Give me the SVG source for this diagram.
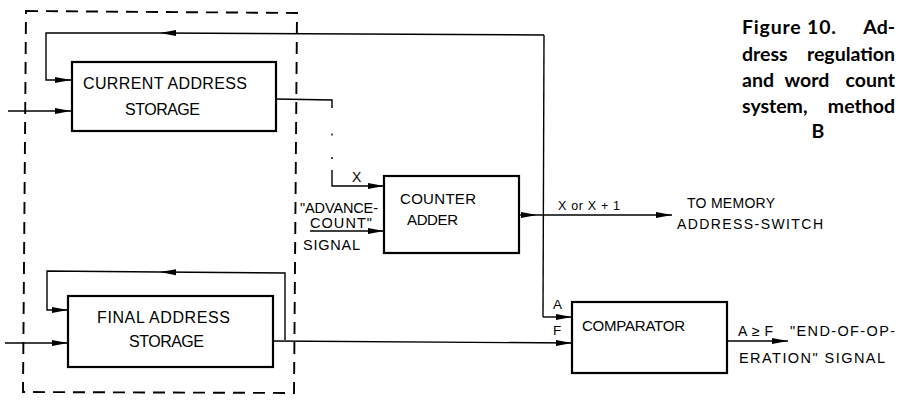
<svg xmlns="http://www.w3.org/2000/svg" width="898" height="402" viewBox="0 0 898 402">
<defs>
<marker id="ah" markerUnits="userSpaceOnUse" markerWidth="16" markerHeight="8" refX="16" refY="4" orient="auto" viewBox="0 0 16 8">
<path d="M0,1 L16,4 L0,7 Z" fill="#000"/>
</marker>
</defs>
<style>
.box{fill:#fff;stroke:#000;stroke-width:2.2}
.ln{fill:none;stroke:#000;stroke-width:1.4}
.arr{fill:none;stroke:#000;stroke-width:1.4;marker-end:url(#ah)}
.t{font-family:"Liberation Sans",Arial,sans-serif;fill:#000}
.cap{font-family:Lato,"DejaVu Sans",sans-serif;font-weight:bold;font-size:19.5px;fill:#000}
.e{text-anchor:end}
.m{text-anchor:middle}
</style>
<rect width="898" height="402" fill="#fff"/>

<g id="boundary">
<path d="M26,11 L297,13 L294,393 L23,392 Z" fill="none" stroke="#000" stroke-width="1.9" stroke-dasharray="12 8"/>
</g>

<g id="connectors">
<path class="arr" d="M544,35 L160,33"/>
<path class="arr" d="M160,33 L46,33 L46,80 L71,80"/>
<path class="arr" d="M8,111 L71,111"/>
<path class="ln" d="M276,99 L332,100 L332,108"/>
<path class="ln" d="M332,133.5 L332,135.5 M332,157 L332,159"/>
<path class="arr" d="M332,170 L332,186 L384,186"/>
<path class="arr" d="M310,231 L384,231"/>
<path class="arr" d="M519,215 L537,215"/>
<path class="arr" d="M537,215 L672,215"/>
<path class="ln" d="M544,35 L543,317"/>
<path class="arr" d="M543,317 L572,317"/>
<path class="arr" d="M285,340 L285,273 L160,272"/>
<path class="arr" d="M160,272 L47,271 L47,310 L68,310"/>
<path class="arr" d="M5,343 L68,343"/>
<path class="arr" d="M273,341 L572,343"/>
<path class="arr" d="M727,341 L788,341"/>
</g>

<g id="current-address-storage">
<rect class="box" x="72" y="62" width="204" height="69"/>
<text class="t" x="83" y="89" font-size="16" textLength="164" lengthAdjust="spacing">CURRENT ADDRESS</text>
<text class="t" x="125" y="115" font-size="16" textLength="75" lengthAdjust="spacing">STORAGE</text>
</g>

<g id="final-address-storage">
<rect class="box" x="68" y="296" width="205" height="71"/>
<text class="t" x="97" y="323" font-size="16" textLength="133" lengthAdjust="spacing">FINAL ADDRESS</text>
<text class="t" x="129" y="347" font-size="16" textLength="75" lengthAdjust="spacing">STORAGE</text>
</g>

<g id="counter-adder">
<rect class="box" x="384" y="176" width="135" height="77"/>
<text class="t" x="400" y="204" font-size="15" textLength="76" lengthAdjust="spacing">COUNTER</text>
<text class="t" x="407" y="225" font-size="15" textLength="51" lengthAdjust="spacing">ADDER</text>
</g>

<g id="comparator">
<rect class="box" x="572" y="302" width="155" height="71"/>
<text class="t" x="582" y="331" font-size="15" textLength="103" lengthAdjust="spacing">COMPARATOR</text>
</g>

<g id="labels">
<text class="t" x="352" y="182" font-size="14">X</text>
<text class="t" x="300" y="213" font-size="14.5" textLength="78" lengthAdjust="spacing">"ADVANCE-</text>
<text class="t" x="310" y="228" font-size="14.5" textLength="62" lengthAdjust="spacing">COUNT"</text>
<text class="t" x="303" y="250" font-size="14.5" textLength="57" lengthAdjust="spacing">SIGNAL</text>
<text class="t" x="558" y="210" font-size="12.5" textLength="62" lengthAdjust="spacing">X or X + 1</text>
<text class="t" x="687" y="208" font-size="14" textLength="88" lengthAdjust="spacing">TO MEMORY</text>
<text class="t" x="677" y="229" font-size="14" textLength="146" lengthAdjust="spacing">ADDRESS-SWITCH</text>
<text class="t" x="553" y="309" font-size="13.5">A</text>
<text class="t" x="553" y="335" font-size="13.5">F</text>
<text class="t" x="738" y="336" font-size="14" textLength="35" lengthAdjust="spacing">A≥F</text>
<text class="t" x="790" y="336" font-size="14.5" textLength="105" lengthAdjust="spacing">"END-OF-OP-</text>
<text class="t" x="739" y="363" font-size="14.5" textLength="146" lengthAdjust="spacing">ERATION" SIGNAL</text>
</g>

<g id="caption">
<text class="cap" x="742" y="34" textLength="94" lengthAdjust="spacing">Figure 10.</text>
<text class="cap e" x="895" y="34">Ad-</text>
<text class="cap" x="742" y="61">dress</text>
<text class="cap e" x="895" y="61">regulation</text>
<text class="cap" x="742" y="87">and</text>
<text class="cap m" x="807" y="87">word</text>
<text class="cap e" x="895" y="87">count</text>
<text class="cap" x="742" y="113">system,</text>
<text class="cap e" x="895" y="113">method</text>
<text class="cap m" x="818" y="138">B</text>
</g>
</svg>
